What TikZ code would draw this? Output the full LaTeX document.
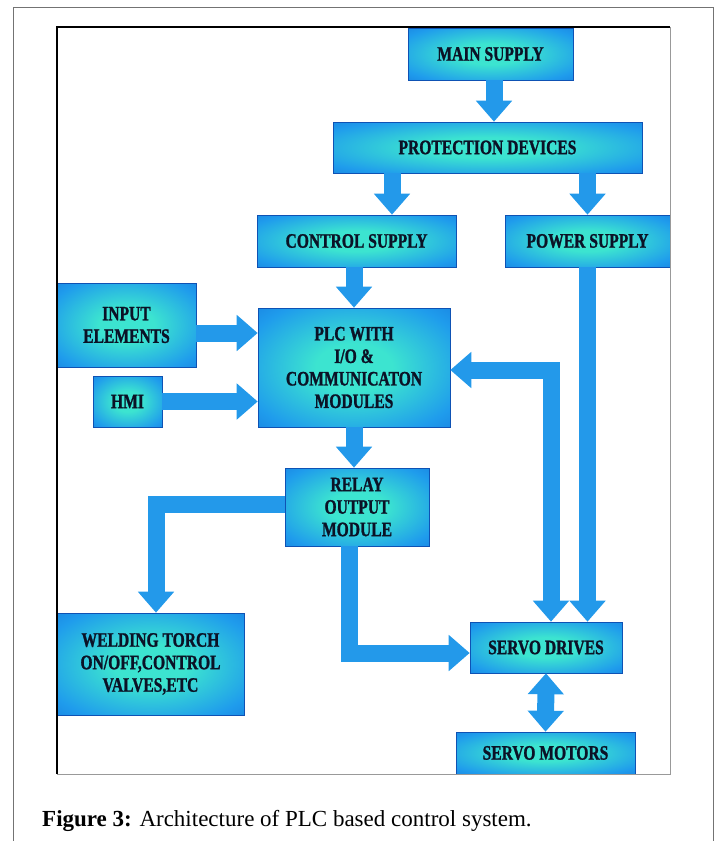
\documentclass[tikz,border=0pt]{standalone}
\usepackage{fontspec}
\setmainfont{Liberation Serif}
\newfontfamily\boxfont[FakeStretch=0.76, FakeBold=1.2]{Liberation Serif}
\usetikzlibrary{arrows.meta, positioning, calc}

\definecolor{boxedge}{HTML}{1060D4}
\definecolor{boxmid}{HTML}{1F9CEC}
\definecolor{boxcore}{HTML}{3CE4D0}
\definecolor{pipeblue}{HTML}{2399EA}
\definecolor{ink}{HTML}{0B1226}
\pgfdeclareradialshading{glow}{\pgfpoint{0bp}{0bp}}{color(0bp)=(boxcore); color(10bp)=(boxcore); color(30bp)=(boxmid); color(50bp)=(boxedge); color(100bp)=(boxedge)}

\begin{document}
\begin{tikzpicture}[
  x=1pt, y=-1pt,
  blk/.style={shading=glow, draw=boxedge!85!black, line width=0.6pt, inner sep=0pt,
              text=ink, align=center,
              font=\fontsize{20.5}{22.5}\selectfont\boxfont\bfseries},
  pipe/.style={draw=pipeblue, line width=17pt, line join=miter,
               -{Triangle[length=21pt, width=35pt]}},
  twoway/.style={pipe, {Triangle[length=21pt, width=35pt]}-{Triangle[length=21pt, width=35pt]}},
]
\useasboundingbox (0,0) rectangle (714,841);

% boxes
\node[blk, minimum width=165pt, minimum height=52pt]  (main)   at (490.5,54)  {MAIN SUPPLY};
\node[blk, minimum width=309pt, minimum height=51pt]  (prot)   at (487.5,147.5) {PROTECTION DEVICES};
\node[blk, minimum width=199pt, minimum height=52pt]  (ctrl)   at (356.5,241) {CONTROL SUPPLY};
\node[blk, minimum width=165pt, minimum height=52pt]  (power)  at (587.5,241) {POWER SUPPLY};
\node[blk, minimum width=139pt, minimum height=84pt]  (input)  at (126.5,325) {INPUT\\ELEMENTS};
\node[blk, minimum width=69pt,  minimum height=51pt]  (hmi)    at (127.5,401.5) {HMI};
\node[blk, minimum width=192pt, minimum height=119pt] (plc)    at (354,367.5) {PLC WITH\\I/O \&\\COMMUNICATON\\MODULES};
\node[blk, minimum width=144pt, minimum height=78pt]  (relay)  at (357,507) {RELAY\\OUTPUT\\MODULE};
\node[blk, minimum width=187pt, minimum height=102pt] (weld)   at (150.5,664) {WELDING TORCH\\ON/OFF,CONTROL\\VALVES,ETC};
\node[blk, minimum width=152pt, minimum height=51pt]  (drives) at (546,647.5) {SERVO DRIVES};
\node[blk, minimum width=179pt, minimum height=42pt]  (motors) at (545.5,753) {SERVO MOTORS};

% connectors
\draw[pipe] ([xshift=3.5pt]main.south) -- ([xshift=3.5pt]main.south |- prot.north);
\draw[pipe] ([xshift=35.5pt]ctrl.north |- prot.south) -- ([xshift=35.5pt]ctrl.north);
\draw[pipe] (power.north |- prot.south) -- (power.north);
\draw[pipe] (plc.north |- ctrl.south) -- (plc.north);
\draw[pipe] ([yshift=-8pt]input.east) -- ([yshift=-8pt]input.east -| plc.west);
\draw[pipe] (hmi.east) -- (hmi.east -| plc.west);
\draw[twoway] ([yshift=-2.5pt]plc.east) -| ([xshift=5pt]drives.north);
\draw[pipe] (power.south) -- (power.south |- drives.north);
\draw[pipe] (plc.south) -- (plc.south |- relay.north);
\draw[pipe] ([yshift=3pt]relay.west) -| ([xshift=5.5pt]weld.north);
\draw[pipe] ([xshift=-8pt]relay.south) |- ([yshift=-5.5pt]drives.west);
\draw[twoway] (drives.south) -- (motors.north);

% frames
\draw[black!55, line width=1pt] (13,7) rectangle (713,850);
\draw[black, line width=1.5pt] (57,774) -- (57,27) -- (670,27);
\draw[black!40, line width=0.8pt] (670,27) -- (670,774) -- (57,774);

\node[anchor=base west, inner sep=0pt, font=\fontsize{23}{27}\selectfont] (caption) at (42,826)
  {\textbf{Figure 3:} Architecture of PLC based control system.};
\end{tikzpicture}
\end{document}
